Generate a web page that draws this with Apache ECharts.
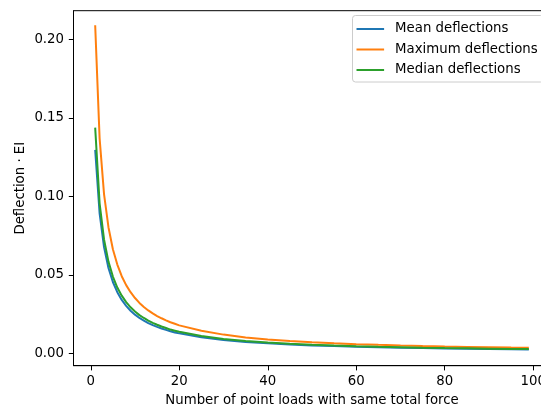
<!DOCTYPE html>
<html>
<head>
<meta charset="utf-8">
<script src="https://cdn.jsdelivr.net/npm/echarts@6/dist/echarts.min.js"></script>
<style>
  html, body { margin: 0; padding: 0; background: #fff; }
  #chart { width: 541px; height: 405px; }
</style>
</head>
<body>
<div id="chart"></div>
<script>
// Number of point loads (total force kept constant)
const loadCounts = [1, 2, 3, 4, 5, 6, 7, 8, 9, 10, 11, 12, 13, 14, 15, 16, 17, 18, 19, 20,
  25, 30, 35, 40, 45, 50, 55, 60, 65, 70, 75, 80, 85, 90, 95, 99];

// Deflection · EI for each load count
const meanDeflections = [0.1296, 0.0891, 0.0676, 0.0543, 0.0454, 0.0389, 0.0340, 0.0302, 0.0271, 0.0246,
  0.0225, 0.0208, 0.0192, 0.0179, 0.0168, 0.0158, 0.0149, 0.0140, 0.0133, 0.0127,
  0.0102, 0.00847, 0.00724, 0.00632, 0.00561, 0.00504, 0.00457, 0.00418, 0.00385, 0.00357,
  0.00332, 0.00311, 0.00292, 0.00275, 0.00260, 0.00249];
const maxDeflections = [0.2089, 0.1369, 0.1014, 0.0803, 0.0663, 0.0565, 0.0491, 0.0434, 0.0389, 0.0352,
  0.0321, 0.0295, 0.0273, 0.0254, 0.0237, 0.0223, 0.0210, 0.0198, 0.0188, 0.0178,
  0.0143, 0.0119, 0.0101, 0.00884, 0.00784, 0.00704, 0.00638, 0.00583, 0.00537, 0.00497,
  0.00463, 0.00433, 0.00407, 0.00383, 0.00362, 0.00347];
const medianDeflections = [0.1437, 0.0955, 0.0725, 0.0584, 0.0489, 0.0419, 0.0367, 0.0326, 0.0293, 0.0266,
  0.0243, 0.0225, 0.0208, 0.0194, 0.0182, 0.0171, 0.0161, 0.0151, 0.0144, 0.0137,
  0.0110, 0.00915, 0.00782, 0.00683, 0.00606, 0.00544, 0.00494, 0.00451, 0.00416, 0.00386,
  0.00359, 0.00336, 0.00315, 0.00297, 0.00281, 0.00269];

const xTicks = [0, 20, 40, 60, 80, 100];
const yTicks = [0, 0.05, 0.10, 0.15, 0.20];

const seriesNames = ['Mean deflections', 'Maximum deflections', 'Median deflections'];
const seriesColors = ['#1f77b4', '#ff7f0e', '#2ca02c'];
const seriesValues = [meanDeflections, maxDeflections, medianDeflections];

const FONT = 'DejaVu Sans';
const FS = 13.3;

const chart = echarts.init(document.getElementById('chart'), null, { renderer: 'canvas' });

const option = {
  animation: false,
  backgroundColor: '#fff',
  textStyle: { fontFamily: FONT },
  grid: {
    left: 73.5, top: 10.7, width: 477, height: 355,
    containLabel: false,
    outerBoundsMode: 'none',
    show: true, borderColor: '#000', borderWidth: 1, backgroundColor: 'transparent'
  },
  legend: {
    orient: 'vertical',
    left: 352.5, top: 15.5,
    padding: [6.5, 6, 5, 4],
    icon: 'rect',
    itemWidth: 27.6, itemHeight: 2, itemGap: 6.5,
    backgroundColor: 'rgba(255,255,255,0.8)',
    borderColor: '#cccccc', borderWidth: 1, borderRadius: 3,
    textStyle: { fontFamily: FONT, fontSize: FS, color: '#000', lineHeight: 14, padding: [0, 0, 0, 6] },
    data: seriesNames
  },
  xAxis: {
    type: 'value',
    min: -3.9, max: 103.9,
    name: 'Number of point loads with same total force',
    nameLocation: 'middle', nameGap: 28,
    nameMoveOverlap: false,
    nameTextStyle: { fontFamily: FONT, fontSize: FS, color: '#000' },
    axisLine: { show: true, onZero: false, lineStyle: { color: '#000', width: 1 } },
    axisTick: { show: true, inside: false, length: 4.7, lineStyle: { color: '#000', width: 1 }, customValues: xTicks },
    axisLabel: { fontFamily: FONT, fontSize: FS, color: '#000', margin: 9, customValues: xTicks,
      formatter: v => String(v) },
    splitLine: { show: false }
  },
  yAxis: {
    type: 'value',
    min: -0.0079, max: 0.2182,
    name: 'Deflection · EI',
    nameLocation: 'middle', nameGap: 46, nameRotate: 90,
    nameMoveOverlap: false,
    nameTextStyle: { fontFamily: FONT, fontSize: FS, color: '#000' },
    axisLine: { show: true, onZero: false, lineStyle: { color: '#000', width: 1 } },
    axisTick: { show: true, inside: false, length: 4.7, lineStyle: { color: '#000', width: 1 }, customValues: yTicks },
    axisLabel: { fontFamily: FONT, fontSize: FS, color: '#000', margin: 9.5, customValues: yTicks,
      formatter: v => v.toFixed(2) },
    splitLine: { show: false }
  },
  series: seriesNames.map((name, i) => ({
    name: name,
    type: 'line',
    data: loadCounts.map((n, k) => [n, seriesValues[i][k]]),
    showSymbol: false,
    symbol: 'none',
    color: seriesColors[i],
    lineStyle: { color: seriesColors[i], width: 2 },
    z: 2 + i
  }))
};

chart.setOption(option);
</script>
</body>
</html>
